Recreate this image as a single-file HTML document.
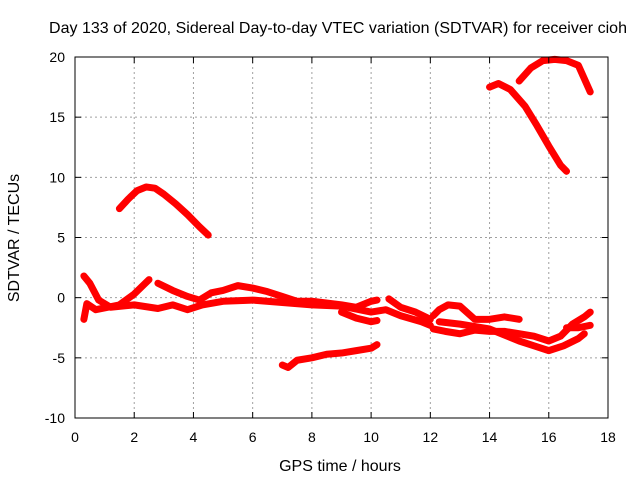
<!DOCTYPE html>
<html><head><meta charset="utf-8"><style>
body{margin:0;background:#fff}
svg text{font-family:"Liberation Sans",sans-serif;font-size:14px;fill:#000}
svg text.big{font-size:16px}
</style></head><body>
<svg id="chart" width="640" height="480">
<text class="big" x="338" y="33" text-anchor="middle" textLength="578">Day 133 of 2020, Sidereal Day-to-day VTEC variation (SDTVAR) for receiver cioh</text>
<text class="big" x="340" y="471" text-anchor="middle">GPS time / hours</text>
<text class="big" transform="translate(19,238) rotate(-90)" text-anchor="middle">SDTVAR / TECUs</text>
<g id="grid"></g><g id="series"></g><g id="axes"></g>
</svg>
<script>
const xTicks=[0,2,4,6,8,10,12,14,16,18];
const yTicks=[-10,-5,0,5,10,15,20];
const trackA=[[1.5,7.4],[1.8,8.2],[2.1,8.9],[2.4,9.2],[2.7,9.1],[3,8.6],[3.4,7.8],[3.8,6.9],[4.2,5.9],[4.5,5.2]];
const trackB=[[14,17.5],[14.3,17.8],[14.7,17.3],[15.2,15.9],[15.6,14.3],[16,12.6],[16.4,11],[16.6,10.5]];
const trackC=[[15,18],[15.4,19.1],[15.8,19.7],[16.2,19.8],[16.6,19.7],[17,19.3],[17.2,18.2],[17.4,17.1]];
const trackD=[[7,-5.6],[7.2,-5.8],[7.5,-5.2],[8,-5],[8.5,-4.7],[9,-4.6],[9.5,-4.4],[10,-4.2],[10.2,-3.9]];
const trackE=[[0.3,1.8],[0.5,1.2],[0.8,-0.2],[1.2,-0.8],[2,-0.6],[2.8,-0.9],[3.3,-0.6],[3.8,-1],[4.3,-0.6],[5,-0.3],[6,-0.2],[7,-0.4],[8,-0.6],[9,-0.7],[10,-1.2],[10.5,-1],[11,-1.5],[11.7,-2],[12,-2.3]];
const trackF=[[0.3,-1.8],[0.4,-0.5],[0.7,-1],[1.5,-0.6],[2,0.3],[2.5,1.5]];
const trackG=[[2.8,1.2],[3.3,0.6],[3.8,0.1],[4.2,-0.2],[4.6,0.4],[5,0.6],[5.5,1],[6,0.8],[6.5,0.5],[7,0.1],[7.5,-0.3],[8,-0.3],[9,-0.6],[9.5,-0.8],[10,-0.3],[10.2,-0.2]];
const trackH=[[9,-1.2],[9.5,-1.7],[10,-2],[10.2,-1.9]];
const trackI=[[10.6,-0.1],[11,-0.8],[11.5,-1.2],[12,-1.8]];
const trackJ=[[12.1,-1.5],[12.3,-1],[12.6,-0.6],[13,-0.7],[13.5,-1.8],[14,-1.8],[14.5,-1.6],[15,-1.8]];
const trackK=[[12.1,-2.6],[12.5,-2.8],[13,-3],[13.5,-2.7],[14,-2.8],[14.5,-2.8],[15,-3],[15.5,-3.2],[16,-3.6],[16.4,-3.2],[16.8,-2.2],[17.2,-1.6],[17.4,-1.2]];
const trackL=[[12.3,-2],[13,-2.2],[14,-2.6],[15,-3.6],[15.5,-4],[16,-4.4],[16.5,-4],[17,-3.4],[17.2,-3]];
const trackM=[[16.6,-2.5],[17,-2.5],[17.4,-2.3]];
const tracks=[trackA,trackB,trackC,trackD,trackE,trackF,trackG,trackH,trackI,trackJ,trackK,trackL,trackM];
const L=75,R=608,T=57,B=418;
const X=h=>L+(h-0)/(18-0)*(R-L);
const Y=v=>B-(v+10)/30*(B-T);
const NS="http://www.w3.org/2000/svg";
const grid=document.getElementById('grid'),axes=document.getElementById('axes'),ser=document.getElementById('series');
function mk(tag,attrs,parent){const e=document.createElementNS(NS,tag);for(const k in attrs)e.setAttribute(k,attrs[k]);parent.appendChild(e);return e;}
xTicks.forEach(t=>{
  if(t>0&&t<18){const g=mk('line',{x1:X(t),x2:X(t),y1:T,y2:B,stroke:'#a0a0a0','stroke-dasharray':'2,3'},grid);
  
  }
  mk('line',{x1:X(t),x2:X(t),y1:B,y2:B-6,stroke:'#000'},axes);
  mk('line',{x1:X(t),x2:X(t),y1:T,y2:T+6,stroke:'#000'},axes);
  const tx=mk('text',{x:X(t),y:B+24,'text-anchor':'middle'},axes);tx.textContent=t;
  
  
});
yTicks.forEach(t=>{
  if(t>-10&&t<20){const g=mk('line',{x1:L,x2:R,y1:Y(t),y2:Y(t),stroke:'#a0a0a0','stroke-dasharray':'2,3'},grid);
  
  }
  mk('line',{x1:L,x2:L+6,y1:Y(t),y2:Y(t),stroke:'#000'},axes);
  mk('line',{x1:R,x2:R-6,y1:Y(t),y2:Y(t),stroke:'#000'},axes);
  const tx=mk('text',{x:L-10,y:Y(t)+5,'text-anchor':'end'},axes);tx.textContent=t;
  
  
});
const frame=mk('rect',{x:L,y:T,width:R-L,height:B-T,fill:'none',stroke:'#000'},axes);


tracks.forEach((tr)=>{
  const p=mk('polyline',{points:tr.map(d=>X(d[0])+','+Y(d[1])).join(' '),fill:'none',stroke:'#ff0000','stroke-width':7,'stroke-linejoin':'round','stroke-linecap':'round'},ser);
  
  
});
</script>
</body></html>
